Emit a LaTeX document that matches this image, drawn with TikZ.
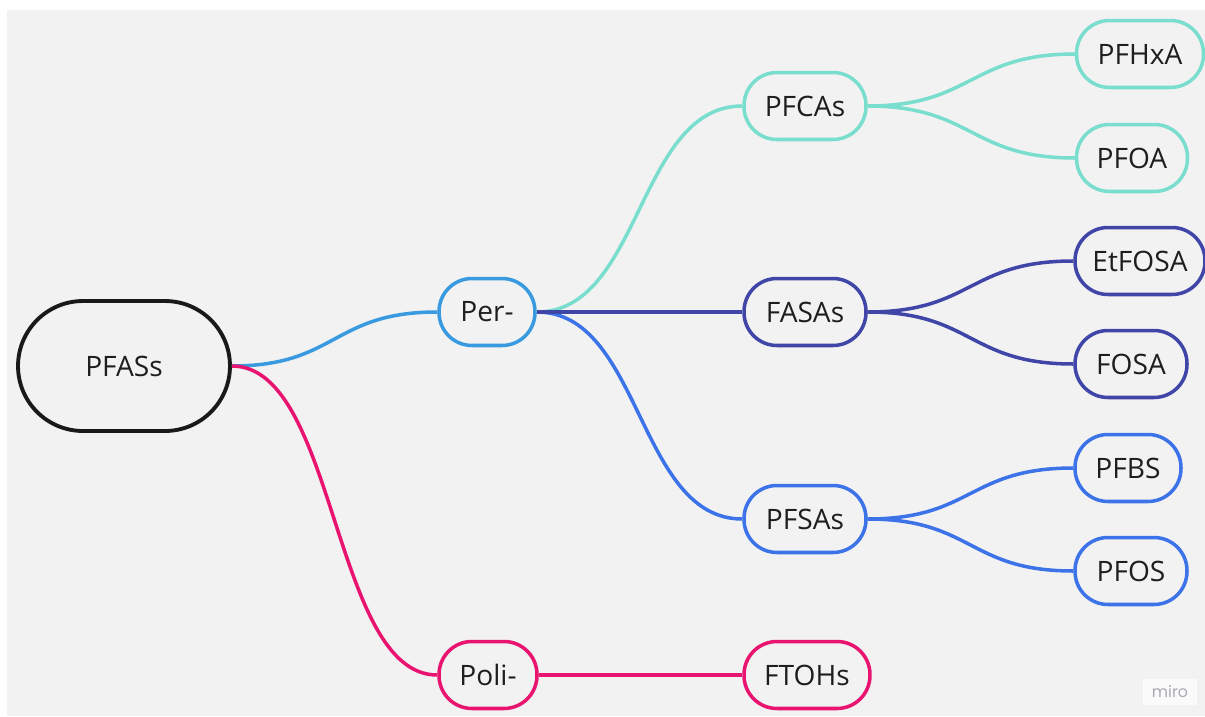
\documentclass[tikz,border=0pt]{standalone}
\usepackage{fontspec}
\setmainfont{Open Sans}

\definecolor{bggray}{RGB}{242,242,242}
\definecolor{ink}{RGB}{30,30,30}
\definecolor{rootblack}{RGB}{25,25,25}
\definecolor{perblue}{RGB}{58,154,224}
\definecolor{polipink}{RGB}{232,20,112}
\definecolor{teal}{RGB}{122,222,206}
\definecolor{indigo}{RGB}{64,70,168}
\definecolor{sablue}{RGB}{60,115,232}
\definecolor{mirogray}{RGB}{170,170,180}

\begin{document}
\begin{tikzpicture}[x=0.02cm,y=-0.02cm,
	box/.style={draw, line width=2pt, rounded corners=0.66cm, minimum height=1.34cm,
		inner xsep=2pt, fill=bggray, text=ink, font=\fontsize{16}{19}\selectfont},
	link/.style={line width=2pt}]

%%% CANVAS - white margin on top and left
\useasboundingbox (0,0) rectangle (1205,717);
\fill[white] (0,0) rectangle (1205,717);
\fill[bggray] (7,10) rectangle (1205,716);

% ROOT
\node[box, draw=rootblack, line width=2.2pt, rounded corners=1.3cm,
	minimum width=4.24cm, minimum height=2.6cm] (pfass) at (124,366) {PFASs};

% PER- and POLI-
\node[box, draw=perblue, minimum width=1.92cm] (per) at (487,312) {Per-};
\node[box, draw=polipink, minimum width=1.96cm] (poli) at (488,675) {Poli-};

% FAMILIES
\node[box, draw=teal, minimum width=2.44cm] (pfcas) at (805,106) {PFCAs};
\node[box, draw=indigo, minimum width=2.44cm] (fasas) at (805,312) {FASAs};
\node[box, draw=sablue, minimum width=2.44cm] (pfsas) at (805,519) {PFSAs};
\node[box, draw=polipink, minimum width=2.52cm] (ftohs) at (807,675) {FTOHs};

% COMPOUNDS
\node[box, draw=teal, minimum width=2.54cm] (pfhxa) at (1140,54) {PFHxA};
\node[box, draw=teal, minimum width=2.22cm] (pfoa) at (1132,158) {PFOA};
\node[box, draw=indigo, minimum width=2.6cm] (etfosa) at (1140,261) {EtFOSA};
\node[box, draw=indigo, minimum width=2.24cm] (fosa) at (1131,364) {FOSA};
\node[box, draw=sablue, minimum width=2.12cm] (pfbs) at (1128,468) {PFBS};
\node[box, draw=sablue, minimum width=2.24cm] (pfos) at (1131,571) {PFOS};

%% Links from the root
\draw[link, perblue] (pfass.east) .. controls +(105,0) and +(-105,0) .. (per.west);
\draw[link, polipink] (pfass.east) .. controls +(105,0) and +(-105,0) .. (poli.west);

%% Links from Per- and Poli-
\draw[link, teal] (per.east) .. controls +(105,0) and +(-105,0) .. (pfcas.west);
\draw[link, sablue] (per.east) .. controls +(105,0) and +(-105,0) .. (pfsas.west);
\draw[link, indigo] (per.east) -- (fasas.west);
\draw[link, polipink] (poli.east) -- (ftohs.west);

%% Links to the compounds
\draw[link, teal] (pfcas.east) .. controls +(105,0) and +(-105,0) .. (pfhxa.west);
\draw[link, teal] (pfcas.east) .. controls +(105,0) and +(-105,0) .. (pfoa.west);
\draw[link, indigo] (fasas.east) .. controls +(105,0) and +(-105,0) .. (etfosa.west);
\draw[link, indigo] (fasas.east) .. controls +(105,0) and +(-105,0) .. (fosa.west);
\draw[link, sablue] (pfsas.east) .. controls +(105,0) and +(-105,0) .. (pfbs.west);
\draw[link, sablue] (pfsas.east) .. controls +(105,0) and +(-105,0) .. (pfos.west);

% MIRO LOGO
\node[fill=white!60!bggray, text=mirogray, inner xsep=5pt, inner ysep=4pt,
	font=\fontspec{Poppins}\fontsize{9}{10}\selectfont] (logo) at (1170,692) {miro};
\end{tikzpicture}
\end{document}
